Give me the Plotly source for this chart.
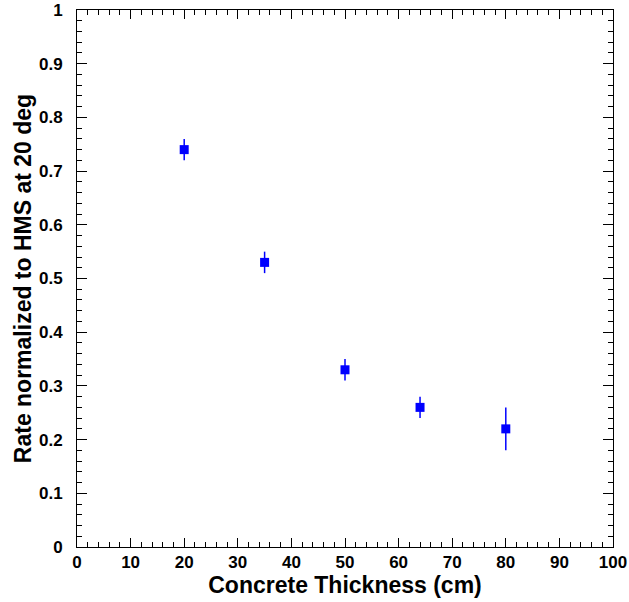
import plotly.graph_objects as go

thickness = [20, 35, 50, 64, 80]
rate = [0.74, 0.53, 0.33, 0.26, 0.22]
rate_err = [0.02, 0.02, 0.02, 0.02, 0.04]

fig = go.Figure()
fig.add_trace(go.Scatter(
    x=thickness, y=rate, mode="markers",
    marker=dict(symbol="square", size=9, color="#0000ff", line=dict(width=0)),
    error_y=dict(type="data", array=rate_err, visible=True, width=0,
                 thickness=1.5, color="#0000ff"),
    showlegend=False,
))

font = "Liberation Sans, Arial, Helvetica, sans-serif"
axis_common = dict(
    showgrid=False, zeroline=False, showline=True, linecolor="black", linewidth=1,
    mirror="allticks", ticks="inside", tickcolor="black", tickwidth=1,
    automargin=False,
    tickfont=dict(family=font, size=17, color="black", weight="bold"),
)
fig.update_xaxes(range=[0, 100], dtick=10, tick0=0, ticklen=9,
                 minor=dict(dtick=2, ticklen=5, ticks="inside", tickcolor="black"),
                 title=dict(text="Concrete Thickness (cm)",
                            font=dict(family=font, size=23, color="black", weight="bold"),
                            standoff=3),
                 **axis_common)
fig.update_yaxes(range=[0, 1], dtick=0.1, tick0=0, ticklen=10,
                 ticklabelstandoff=10,
                 minor=dict(dtick=0.02, ticklen=5, ticks="inside", tickcolor="black"),
                 title=dict(text="Rate normalized to HMS at 20 deg",
                            font=dict(family=font, size=23, color="black", weight="bold"),
                            standoff=0),
                 **axis_common)
fig.update_layout(
    width=629, height=602,
    margin=dict(l=77, r=16, t=10, b=55),
    plot_bgcolor="white", paper_bgcolor="white",
)
fig.write_html("out.html")
